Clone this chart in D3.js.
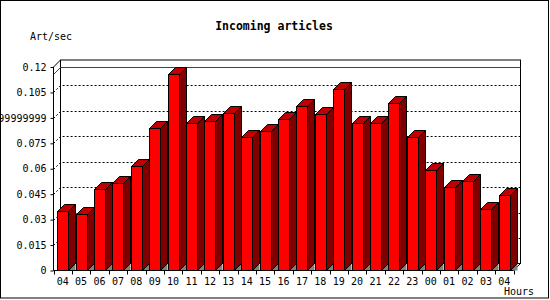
<!DOCTYPE html>
<html>
<head>
<meta charset="utf-8">
<script src="https://cdn.jsdelivr.net/npm/d3@7"></script>
<style>
    body { margin: 0; background: #fff; }
    svg text { font-family: "DejaVu Sans Mono", monospace; fill: #000; }
    .axis-label { font-size: 10px; }
    .chart-title { font-size: 11.5px; font-weight: bold; }
</style>
</head>
<body>
<div id="chart"></div>
<script>

// Data
var hours = ["04","05","06","07","08","09","10","11","12","13","14","15","16",
             "17","18","19","20","21","22","23","00","01","02","03","04"];
var artPerSec = [0.0353, 0.0335, 0.0483, 0.0518, 0.0615, 0.0839, 0.1159, 0.0867,
                 0.0879, 0.0926, 0.0786, 0.0820, 0.0891, 0.0968, 0.0920, 0.1068,
                 0.0867, 0.0867, 0.0985, 0.0786, 0.0595, 0.0495, 0.0530, 0.0365, 0.0447];
var yTicks = [0, 0.015, 0.03, 0.045, 0.06, 0.075, 0.09, 0.105, 0.12];
var yTickLabels = ["0", "0.015", "0.03", "0.045", "0.06", "0.075",
                   "0.08999999999999999", "0.105", "0.12"];

var width = 550, height = 300;
var plot = { left: 53.5, right: 513.5, top: 67, bottom: 270.5 };
var depth = 7;

var svg = d3.select("#chart").append("svg")
    .attr("width", width)
    .attr("height", height);

// outer frame
svg.append("rect")
    .attr("x", 0.5).attr("y", 0.5)
    .attr("width", 548).attr("height", 297.5)
    .attr("fill", "#fff")
    .attr("stroke", "#000");

// Scales
var x = d3.scaleBand()
    .domain(d3.range(hours.length))
    .range([plot.left, plot.right])
    .paddingInner(0.4)
    .paddingOuter(0.2);

var xSlot = d3.scaleBand()
    .domain(d3.range(hours.length))
    .range([plot.left, plot.right])
    .padding(0);

var y = d3.scaleLinear()
    .domain([0, 0.12])
    .range([plot.bottom, plot.top]);

// Back wall + left wall + floor outline
var wall = svg.append("g");
wall.append("rect")
    .attr("x", plot.left + depth).attr("y", plot.top - depth)
    .attr("width", plot.right - plot.left).attr("height", plot.bottom - plot.top)
    .attr("fill", "#fff").attr("stroke", "#000");
wall.append("path")
    .attr("d", "M" + plot.left + "," + plot.bottom +
               "L" + plot.left + "," + plot.top +
               "L" + (plot.left + depth) + "," + (plot.top - depth))
    .attr("fill", "none").attr("stroke", "#000");
wall.append("path")
    .attr("d", "M" + plot.right + "," + plot.bottom +
               "L" + (plot.right + depth) + "," + (plot.bottom - depth))
    .attr("fill", "none").attr("stroke", "#000");

// dashed grid lines on the back wall
wall.selectAll(".grid")
    .data(yTicks.filter(function(d){ return d > 0 && d < 0.12; }))
    .enter().append("path")
    .attr("class", "grid")
    .attr("d", function(d){
        var yy = Math.round(y(d)) + 0.5;
        return "M" + plot.left + "," + yy +
               "L" + (plot.left + depth) + "," + (yy - depth) +
               "L" + (plot.right + depth) + "," + (yy - depth);
    })
    .attr("fill", "none")
    .attr("stroke", "#000")
    .attr("stroke-dasharray", "2,2");

// max value line (red)
var maxVal = d3.max(artPerSec);
var yMax = Math.round(y(maxVal)) + 0.5;
wall.append("path")
    .attr("d", "M" + plot.left + "," + yMax +
               "L" + (plot.left + depth) + "," + (yMax - depth) +
               "L" + (plot.right + depth) + "," + (yMax - depth))
    .attr("fill", "none")
    .attr("stroke", "#e00000");

// Bars
var bars = svg.selectAll(".bar")
    .data(artPerSec)
    .enter().append("g")
    .attr("class", "bar");

// floor shadow triangle
bars.append("path")
    .attr("d", function(d, i){
        var x1 = Math.round(x(i) + x.bandwidth()) + 0.5;
        return "M" + x1 + "," + plot.bottom +
               "L" + (x1 + depth) + "," + (plot.bottom - depth) +
               "L" + (x1 + depth) + "," + plot.bottom + "Z";
    })
    .attr("fill", "#808080");

// side face
bars.append("path")
    .attr("d", function(d, i){
        var x1 = Math.round(x(i) + x.bandwidth()) + 0.5;
        var yt = Math.round(y(d)) + 0.5;
        return "M" + x1 + "," + plot.bottom +
               "L" + x1 + "," + yt +
               "L" + (x1 + depth) + "," + (yt - depth) +
               "L" + (x1 + depth) + "," + (plot.bottom - depth) + "Z";
    })
    .attr("fill", "#800000")
    .attr("stroke", "#000")
    .attr("stroke-linejoin", "miter");

// top face
bars.append("path")
    .attr("d", function(d, i){
        var x0 = Math.round(x(i)) + 0.5;
        var x1 = Math.round(x(i) + x.bandwidth()) + 0.5;
        var yt = Math.round(y(d)) + 0.5;
        return "M" + x0 + "," + yt +
               "L" + (x0 + depth) + "," + (yt - depth) +
               "L" + (x1 + depth) + "," + (yt - depth) +
               "L" + x1 + "," + yt + "Z";
    })
    .attr("fill", "#c00000")
    .attr("stroke", "#000");

// front face
bars.append("rect")
    .attr("x", function(d, i){ return Math.round(x(i)) + 0.5; })
    .attr("y", function(d){ return Math.round(y(d)) + 0.5; })
    .attr("width", function(d, i){ return Math.round(x(i) + x.bandwidth()) - Math.round(x(i)); })
    .attr("height", function(d){ return plot.bottom - (Math.round(y(d)) + 0.5); })
    .attr("fill", "#ff0000")
    .attr("stroke", "#000");

// Y axis
var yAxis = d3.axisLeft(y)
    .tickValues(yTicks)
    .tickSize(3)
    .tickPadding(4)
    .tickFormat(function(d, i){ return yTickLabels[i]; });

var yG = svg.append("g")
    .attr("class", "axis-label")
    .attr("transform", "translate(" + plot.left + ",0)")
    .call(yAxis);
yG.select(".domain").remove();
yG.selectAll("line").attr("stroke", "#000");
yG.selectAll("text")
    .style("font-size", "10px")
    .attr("font-family", null);
svg.append("line")
    .attr("x1", plot.left).attr("x2", plot.left)
    .attr("y1", plot.top).attr("y2", plot.bottom)
    .attr("stroke", "#000");

// X axis
var xAxis = d3.axisBottom(xSlot)
    .tickSize(0)
    .tickPadding(7)
    .tickFormat(function(i){ return hours[i]; });

var xG = svg.append("g")
    .attr("class", "axis-label")
    .attr("transform", "translate(0," + plot.bottom + ")")
    .call(xAxis);
xG.select(".domain").remove();
xG.selectAll("text")
    .style("font-size", "10px")
    .attr("font-family", null);

svg.append("line")
    .attr("x1", plot.left).attr("x2", plot.right)
    .attr("y1", plot.bottom).attr("y2", plot.bottom)
    .attr("stroke", "#000");

svg.selectAll(".xtick")
    .data(d3.range(hours.length + 1))
    .enter().append("line")
    .attr("class", "xtick")
    .attr("x1", function(i){ return Math.round(i < hours.length ? xSlot(i) : plot.right) + 0.5; })
    .attr("x2", function(i){ return Math.round(i < hours.length ? xSlot(i) : plot.right) + 0.5; })
    .attr("y1", plot.bottom)
    .attr("y2", plot.bottom + 4)
    .attr("stroke", "#000");

// Titles
svg.append("text")
    .attr("class", "chart-title")
    .attr("x", 274)
    .attr("y", 30)
    .attr("text-anchor", "middle")
    .text("Incoming articles");

svg.append("text")
    .attr("class", "axis-label")
    .attr("x", 30)
    .attr("y", 40)
    .text("Art/sec");

svg.append("text")
    .attr("class", "axis-label")
    .attr("x", 504)
    .attr("y", 295)
    .text("Hours");

</script>
</body>
</html>
